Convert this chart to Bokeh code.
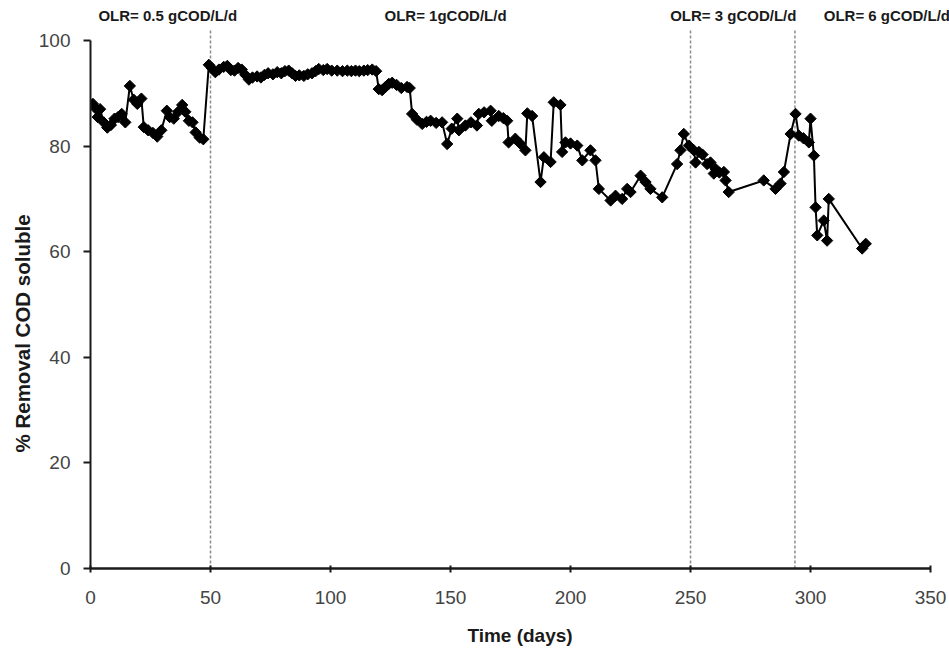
import numpy as np
from bokeh.plotting import figure
from bokeh.models import Range1d, FixedTicker, Label, Title
from bokeh.embed import file_html
from bokeh.resources import INLINE

# ---- data -------------------------------------------------------------
days = [1, 2, 3, 4, 5.5, 7, 8.5, 10, 11.5, 13, 14.5, 16.4, 18, 19.5, 21.2, 22.2,
        24, 26, 27.8, 29.5, 31.8, 33, 34.7, 36.5, 38.2, 39.5, 41, 42.5, 43.8, 45.5, 47,
        49.3, 50.5, 52, 53.5, 55.5, 57, 58.5, 60, 61.5, 63, 64.5, 66, 67.5, 69.4, 71,
        72.5, 74, 76, 77.8, 79.5, 81, 82.6, 84, 85.4, 87, 88.9, 90.5, 92.3, 93.8, 95.1,
        97, 98.6, 100.5, 102.8, 105, 107, 108.7, 110.4, 112, 113.9, 115.5, 117.4, 119,
        120.1, 121.5, 122.9, 124.3, 125.7, 127.5, 129.5, 131.9, 133, 134, 136, 138.2,
        140, 141.7, 144, 146.5, 148.6, 150.5, 152.8, 153.5, 156.2, 158.5, 161, 161.8,
        164, 166.7, 167.2, 170.1, 172, 173.6, 174.2, 177, 179, 181.2, 182, 184, 187.5,
        188.9, 191.7, 193, 195.8, 196.5, 197.9, 200, 202.8, 204.9, 208.3, 210.4, 211.8,
        216.7, 218.75, 221.5, 223.6, 225, 229.2, 231.25, 233.3, 238.2, 244.4, 245.8,
        247.2, 249.3, 251.4, 252.1, 253.5, 255, 256.9, 258.3, 259.7, 260.4, 262, 263.9,
        264.6, 265.9, 280.5, 285.4, 287.5, 288.9, 291.7, 293.75, 295.1, 297, 299.3, 300,
        301.4, 302.1, 302.8, 305.5, 306.9, 307.6, 321.5, 323]

removal = [88.0, 87.2, 85.5, 87.0, 84.5, 83.5, 84.0, 85.2, 85.5, 86.1, 84.5, 91.4, 88.8,
           88.0, 89.0, 83.6, 83.0, 82.5, 81.8, 83.0, 86.7, 85.5, 85.2, 86.5, 87.8, 86.5,
           84.8, 84.5, 82.6, 81.6, 81.3,
           95.4, 94.8, 94.0, 94.5, 95.0, 95.2, 94.4, 94.3, 94.8, 94.5, 93.5, 92.6, 93.0,
           93.2, 93.0, 93.5, 93.8, 93.6, 94.0, 93.8, 94.2, 94.3, 93.8, 93.3, 93.4, 93.3,
           93.6, 93.8, 94.2, 94.6, 94.4, 94.6, 94.3, 94.3, 94.2, 94.3, 94.2, 94.3, 94.2,
           94.3, 94.4, 94.5, 94.2,
           90.8, 90.6, 91.2, 91.8, 92.0, 91.6, 91.0, 91.2, 91.0, 86.1, 85.0, 84.2, 84.6,
           84.8, 84.4, 84.5, 80.4, 83.3, 85.2, 83.0, 83.9, 84.5, 83.9, 86.1, 86.4, 86.7,
           84.8, 85.7, 85.3, 84.8, 80.7, 81.4, 80.5, 79.2, 86.2, 85.7, 73.2, 77.9, 77.0,
           88.3, 87.8, 78.9, 80.7, 80.5, 80.1, 77.3, 79.2, 77.3, 71.9, 69.7, 70.6, 70.0,
           71.9, 71.3, 74.4, 73.2, 71.9, 70.3, 76.6, 79.2, 82.3, 80.1, 79.2, 76.9, 78.9,
           78.4, 76.6, 76.9, 74.8, 75.7, 75.0, 75.1, 73.5, 71.3, 73.5, 71.9, 72.9, 75.1,
           82.3, 86.1, 82.0, 81.5, 80.7, 85.2, 78.2, 68.4, 63.1, 65.9, 62.1, 70.0, 60.6, 61.5]

phase_days = [50, 250, 293.5]
olr_labels = ["OLR= 0.5 gCOD/L/d", "OLR= 1gCOD/L/d", "OLR= 3 gCOD/L/d", "OLR= 6 gCOD/L/d"]
olr_label_x = [3.3, 122.5, 241.5, 305.5]
x_ticks = [0, 50, 100, 150, 200, 250, 300, 350]
y_ticks = [0, 20, 40, 60, 80, 100]

FONT = "Liberation Sans"

p = figure(width=949, height=652, output_backend="svg", toolbar_location=None,
           title=None, x_range=Range1d(0, 357.9), y_range=Range1d(0, 107.58),
           min_border_left=90, min_border_right=0, min_border_top=0,
           min_border_bottom=84)
p.outline_line_color = None
p.background_fill_color = "white"
p.border_fill_color = "white"
p.xgrid.visible = False
p.ygrid.visible = False

for ax, ticks in ((p.xaxis[0], x_ticks), (p.yaxis[0], y_ticks)):
    ax.ticker = FixedTicker(ticks=ticks)
    ax.minor_tick_line_color = None
    ax.axis_line_color = "#1a1a1a"
    ax.major_tick_line_color = "#1a1a1a"
    ax.major_tick_line_width = 2
    ax.major_label_text_font = FONT
    ax.major_label_text_font_size = "19px"
    ax.major_label_text_color = "#444444"

p.xaxis.bounds = (0, 350)
p.xaxis.axis_line_width = 2.5
p.xaxis.major_tick_in = 3
p.xaxis.major_tick_out = 4
p.xaxis.major_label_standoff = 18
p.xaxis.axis_label = "Time (days)"
p.xaxis.axis_label_text_font = FONT
p.xaxis.axis_label_text_font_size = "19px"
p.xaxis.axis_label_text_font_style = "bold"
p.xaxis.axis_label_text_color = "#1a1a1a"
p.xaxis.axis_label_standoff = 18

p.yaxis.bounds = (0, 100)
p.yaxis.axis_line_width = 2
p.yaxis.major_tick_in = 0
p.yaxis.major_tick_out = 7
p.yaxis.major_label_standoff = 13

ytitle = Title(text="% Removal COD soluble", align="left", offset=116,
               text_font=FONT, text_font_size="20.5px", text_font_style="bold",
               text_color="#1a1a1a", standoff=4)
p.add_layout(ytitle, "left")

p.segment(x0=phase_days, y0=0, x1=phase_days, y1=102.3, line_color="#8c8c8c",
          line_width=1.5, line_dash="3 2")

p.line(days, removal, line_color="black", line_width=2)
p.scatter(days, removal, marker="square", angle=np.pi / 4, size=8,
          fill_color="black", line_color="black")

for txt, lx in zip(olr_labels, olr_label_x):
    p.add_layout(Label(x=lx, y=104.7, text=txt, text_font=FONT, text_font_size="15px",
                       text_font_style="bold", text_align="left",
                       text_baseline="middle", text_color="#1a1a1a"))

open("out.html", "w").write(file_html(p, INLINE))
